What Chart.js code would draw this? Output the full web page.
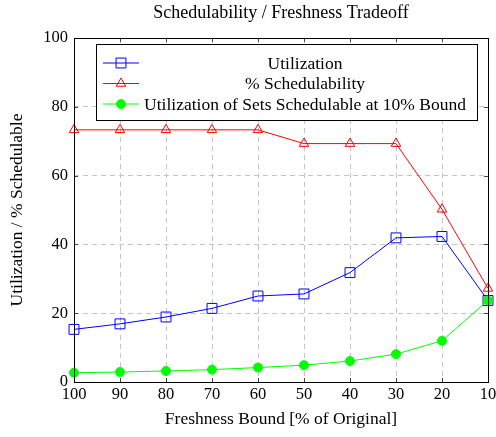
<!DOCTYPE html>
<html>
<head>
<meta charset="utf-8">
<script src="https://cdn.jsdelivr.net/npm/chart.js@4"></script>
<style>
  html, body { margin: 0; padding: 0; background: #fff; }
  #wrap { width: 496px; height: 437px; position: relative; overflow: hidden; }
</style>
</head>
<body>
<div id="wrap"><canvas id="chart"></canvas></div>
<script>
const bounds = ['100', '90', '80', '70', '60', '50', '40', '30', '20', '10']
const utilization = [15.3, 16.9, 18.9, 21.4, 25.0, 25.6, 31.8, 41.9, 42.3, 23.7]
const schedulability = [73.3, 73.3, 73.3, 73.3, 73.3, 69.3, 69.3, 69.3, 50.2, 27.2]
const utilAtTen = [2.7, 2.9, 3.2, 3.6, 4.2, 4.9, 6.1, 8.1, 12.0, 23.7]
const yTicks = [0, 20, 40, 60, 80, 100]

const serif = "'Liberation Serif', 'DejaVu Serif', serif"

function drawMarker (ctx, style, x, y, r) {
  Chart.helpers.drawPoint(ctx, { pointStyle: style, radius: r, rotation: 0, borderWidth: 1 }, x, y)
}

// pgfplots-style frame, inner tick marks and boxed legend
const framePlugin = {
  id: 'frame',
  afterDraw: chart => {
    const ctx = chart.ctx
    const a = chart.chartArea
    const xs = chart.scales.x
    const ys = chart.scales.y
    ctx.save()
    // tick marks on both sides
    ctx.strokeStyle = '#444'
    ctx.lineWidth = 1
    ctx.beginPath()
    bounds.forEach((b, i) => {
      const x = Math.round(xs.getPixelForValue(i)) + 0.5
      ctx.moveTo(x, a.bottom); ctx.lineTo(x, a.bottom - 4)
      ctx.moveTo(x, a.top); ctx.lineTo(x, a.top + 4)
    })
    yTicks.forEach(v => {
      const y = Math.round(ys.getPixelForValue(v)) + 0.5
      ctx.moveTo(a.left, y); ctx.lineTo(a.left + 4, y)
      ctx.moveTo(a.right, y); ctx.lineTo(a.right - 4, y)
    })
    ctx.stroke()
    ctx.strokeStyle = '#000'
    ctx.strokeRect(Math.round(a.left) + 0.5, Math.round(a.top) + 0.5, Math.round(a.width), Math.round(a.height))

    // legend
    const lx = a.left + 22, ly = a.top + 6, lw = 381, lh = 76
    ctx.fillStyle = '#fff'
    ctx.fillRect(lx, ly, lw, lh)
    ctx.strokeStyle = '#000'
    ctx.strokeRect(lx + 0.5, ly + 0.5, lw, lh)
    ctx.font = '17.5px ' + serif
    ctx.textAlign = 'center'
    ctx.textBaseline = 'middle'
    chart.data.datasets.forEach((ds, row) => {
      const y = ly + 19 + row * 20.5
      ctx.strokeStyle = ds.borderColor
      ctx.lineWidth = 1
      ctx.beginPath()
      ctx.moveTo(lx + 7, y); ctx.lineTo(lx + 43, y)
      ctx.stroke()
      ctx.fillStyle = ds.pointBackgroundColor
      ctx.strokeStyle = ds.borderColor
      drawMarker(ctx, ds.pointStyle, lx + 25, y, ds.pointRadius)
      ctx.fillStyle = '#000'
      ctx.fillText(ds.label, lx + 209, y + 1)
    })
    ctx.restore()
  }
}

new Chart(document.getElementById('chart'), {
  type: 'line',
  data: {
    labels: bounds,
    datasets: [
      {
        label: 'Utilization',
        data: utilization,
        borderColor: '#0000ff',
        pointBackgroundColor: 'rgba(0,0,0,0)',
        pointBorderColor: '#0000ff',
        pointStyle: 'rect',
        pointRadius: 7,
        borderWidth: 1,
        order: 1
      },
      {
        label: '% Schedulability',
        data: schedulability,
        borderColor: '#ff0000',
        pointBackgroundColor: 'rgba(0,0,0,0)',
        pointBorderColor: '#ff0000',
        pointStyle: 'triangle',
        pointRadius: 5.5,
        borderWidth: 1,
        order: 2
      },
      {
        label: 'Utilization of Sets Schedulable at 10% Bound',
        data: utilAtTen,
        borderColor: '#00ff00',
        pointBackgroundColor: '#00ff00',
        pointBorderColor: '#00ff00',
        pointStyle: 'circle',
        pointRadius: 4.5,
        borderWidth: 1,
        order: 0
      }
    ]
  },
  options: {
    responsive: true,
    maintainAspectRatio: false,
    animation: false,
    events: [],
    layout: { padding: { left: 6.5, right: 7, top: 0, bottom: 7 } },
    plugins: {
      legend: { display: false },
      tooltip: { enabled: false },
      title: {
        display: true,
        fullSize: false,
        text: 'Schedulability / Freshness Tradeoff',
        color: '#000',
        font: { family: serif, size: 18, weight: 'normal' },
        padding: { top: 2, bottom: 14.4 }
      }
    },
    scales: {
      x: {
        offset: false,
        grid: { color: '#c4c4c4', drawTicks: false },
        border: { display: false, dash: [5, 4] },
        ticks: { color: '#000', font: { family: serif, size: 16.5 }, padding: 3, maxRotation: 0, autoSkip: false },
        title: {
          display: true,
          text: 'Freshness Bound [% of Original]',
          color: '#000',
          font: { family: serif, size: 17.5 },
          padding: 0
        },
        afterFit: s => { s.paddingRight = 0; s.height = 48 }
      },
      y: {
        min: 0,
        max: 100,
        afterBuildTicks: s => { s.ticks = yTicks.map(v => ({ value: v })) },
        grid: { color: '#c4c4c4', drawTicks: false },
        border: { display: false, dash: [5, 4] },
        ticks: { color: '#000', font: { family: serif, size: 16.5 }, padding: 6 },
        title: {
          display: true,
          text: 'Utilization / % Schedulable',
          color: '#000',
          font: { family: serif, size: 17.5 },
          padding: 0
        },
        afterFit: s => { s.width = 67.5 }
      }
    }
  },
  plugins: [framePlugin]
})
</script>
</body>
</html>
